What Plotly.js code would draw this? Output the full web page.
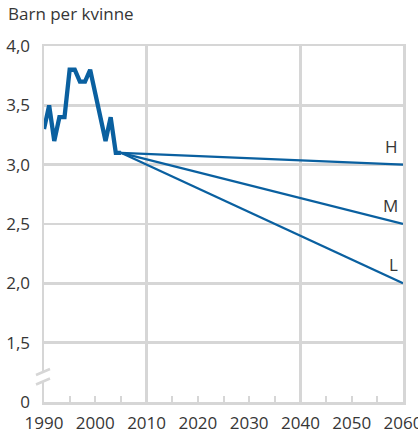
<!DOCTYPE html>
<html><head><meta charset="utf-8">
<script src="https://cdn.plot.ly/plotly-3.0.1.min.js"></script>
<style>html,body{margin:0;padding:0;background:#fff}#c{width:418px;height:433px}</style>
</head><body><div id="c"></div>
<script>
// Historical fertility (barn per kvinne)
const histYears = [1990,1991,1992,1993,1994,1995,1996,1997,1998,1999,2000,2001,2002,2003,2004,2005];
const histValues = [3.3,3.5,3.2,3.4,3.4,3.8,3.8,3.7,3.7,3.8,3.6,3.4,3.2,3.4,3.1,3.1];
// Projections
const projYears = [2005,2060];
const projH = [3.1,3.0];
const projM = [3.1,2.5];
const projL = [3.1,2.0];
const projNames = ["H","M","L"];
const xTickVals = [1990,2000,2010,2020,2030,2040,2050,2060];
const xTickText = ["1990","2000","2010","2020","2030","2040","2050","2060"];
const yTickVals = [1.0,1.5,2.0,2.5,3.0,3.5,4.0];
const yTickText = ["0","1,5","2,0","2,5","3,0","3,5","4,0"];
const vGrid = [2010,2040];

const blue = "#0a60a0";
const grid = "#d6d6d6";
const txt = "#363636";
const font = "Open Sans, sans-serif";

const traces = [
  {x: histYears, y: histValues, mode:"lines", line:{color:blue, width:4.3, shape:"linear"}, hoverinfo:"skip"},
];
[projH, projM, projL].forEach(p => traces.push({x: projYears, y: p, mode:"lines", line:{color:blue, width:2.3}, hoverinfo:"skip"}));
traces.push({x: [], y: [], xaxis:"x2", yaxis:"y", hoverinfo:"skip"});

const annotations = [projH, projM, projL].map((p,i) => ({
  x: projYears[projYears.length-1], y: p[p.length-1], xref:"x", yref:"y",
  text: projNames[i], showarrow:false, xanchor:"right", yanchor:"bottom",
  xshift:-3, yshift:5, font:{family:font, size:17, color:txt}
}));

const shapes = [
  {type:"rect", xref:"paper", yref:"y", xsizemode:"pixel", ysizemode:"pixel", xanchor:0, yanchor:1.0,
   x0:-4, x1:4, y0:20.5, y1:29.5, fillcolor:"#fff", line:{width:0}, layer:"above"},
  {type:"line", xref:"paper", yref:"y", xsizemode:"pixel", ysizemode:"pixel", xanchor:0, yanchor:1.0,
   x0:-8, x1:6, y0:27, y1:33, line:{color:grid, width:2.5}, layer:"above"},
  {type:"line", xref:"paper", yref:"y", xsizemode:"pixel", ysizemode:"pixel", xanchor:0, yanchor:1.0,
   x0:-8, x1:6, y0:17.5, y1:23.5, line:{color:grid, width:2.5}, layer:"above"}
];

const layout = {
  width:418, height:433,
  margin:{l:44, r:15, t:46, b:31},
  paper_bgcolor:"#fff", plot_bgcolor:"#fff",
  showlegend:false,
  title:{text:"Barn per kvinne", xref:"container", yref:"container", x:8/418, xanchor:"left", y:1-8/433, yanchor:"top",
         font:{family:font, size:17, color:txt}},
  xaxis:{range:[1990,2060], tickvals:xTickVals, ticktext:xTickText, showgrid:false, zeroline:false,
         showline:true, linecolor:grid, linewidth:2.5, mirror:true,
         ticks:"inside", ticklen:6, tickwidth:2, tickcolor:grid,
         minor:{dtick:5, tick0:1990, ticks:"inside", ticklen:6, tickwidth:2, tickcolor:grid},
         tickfont:{family:font, size:17, color:txt}, ticklabelstandoff:4, ticklabeloverflow:"allow", fixedrange:true},
  xaxis2:{range:[1990,2060], overlaying:"x", tickvals:vGrid, showgrid:true, gridcolor:grid, gridwidth:2.5,
          showticklabels:false, ticks:"", zeroline:false, showline:false},
  yaxis:{range:[1.0,4.0], tickvals:yTickVals, ticktext:yTickText, showgrid:true, gridcolor:grid, gridwidth:2.5,
         zeroline:false, showline:true, linecolor:grid, linewidth:2.5, mirror:true, ticks:"",
         tickfont:{family:font, size:17, color:txt}, ticklabelstandoff:8, fixedrange:true},
  annotations: annotations,
  shapes: shapes
};
Plotly.newPlot("c", traces, layout, {displayModeBar:false, staticPlot:true});
</script>
</body></html>
